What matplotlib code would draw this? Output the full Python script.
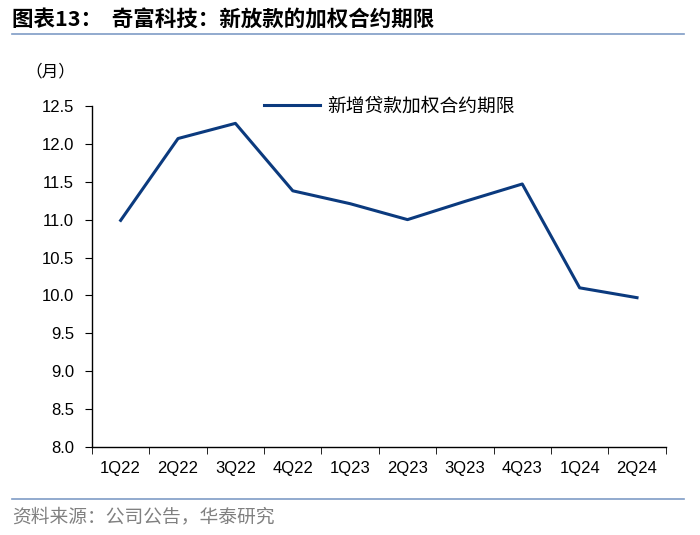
import matplotlib
matplotlib.use("Agg")
import numpy as np
from matplotlib import pyplot as plt

plt.rcParams['font.family'] = ['Liberation Sans', 'Noto Sans CJK SC', 'DejaVu Sans']

# quarters and weighted contract term of new loans (months)
quarters = ["1Q22", "2Q22", "3Q22", "4Q22", "1Q23", "2Q23", "3Q23", "4Q23", "1Q24", "2Q24"]
term_months = [10.99, 12.07, 12.27, 11.38, 11.21, 11.00, 11.24, 11.47, 10.10, 9.97]
yticks = np.arange(8.0, 12.51, 0.5)

navy = "#0B3A7E"
cjk = ['Noto Sans CJK SC', 'DejaVu Sans']

fig = plt.figure(figsize=(7.0, 5.35), dpi=100)
ax = fig.add_axes([0.1314, 0.1645, 0.8196, 0.6375])

x = np.arange(len(quarters))
ax.plot(x, term_months, color=navy, linewidth=2.2, label="新增贷款加权合约期限")

ax.set_xlim(-0.5, len(quarters) - 0.5)
ax.set_ylim(8.0, 12.5)
ax.set_yticks(yticks)
ax.set_yticklabels(["%.1f" % v for v in yticks], fontsize=12)
ax.set_xticks(x)
ax.set_xticklabels(quarters, fontsize=12)
ax.tick_params(axis='x', length=0, pad=10)
ax.set_xticks(np.arange(-0.5, len(quarters), 1.0), minor=True)
ax.tick_params(axis='x', which='minor', length=5, direction='out', color='black')
ax.tick_params(axis='y', length=5, direction='out', pad=8)

for s in ['top', 'right']:
    ax.spines[s].set_visible(False)
for s in ['left', 'bottom']:
    ax.spines[s].set_linewidth(1.0)

leg = ax.legend(loc='upper left', bbox_to_anchor=(0.27, 1.08), frameon=False,
                prop={'family': cjk, 'size': 13.5}, handlelength=3.0, handletextpad=0.4)

# title, unit and source
fig.text(0.017, 0.962, "图表13：  奇富科技：新放款的加权合约期限", fontsize=15.5,
         fontweight='bold', family=cjk, va='center')
fig.add_artist(plt.Line2D([0.017, 0.977], [0.936, 0.936], color="#7F9CC6", linewidth=1.2))
fig.text(0.036, 0.866, "（月）", fontsize=12, family=cjk, va='center')
fig.add_artist(plt.Line2D([0.017, 0.977], [0.068, 0.068], color="#7F9CC6", linewidth=1.2))
fig.text(0.017, 0.034, "资料来源：公司公告，华泰研究", fontsize=13.5, color="#808080",
         family=cjk, va='center')

fig.savefig("out.png", dpi=100)
